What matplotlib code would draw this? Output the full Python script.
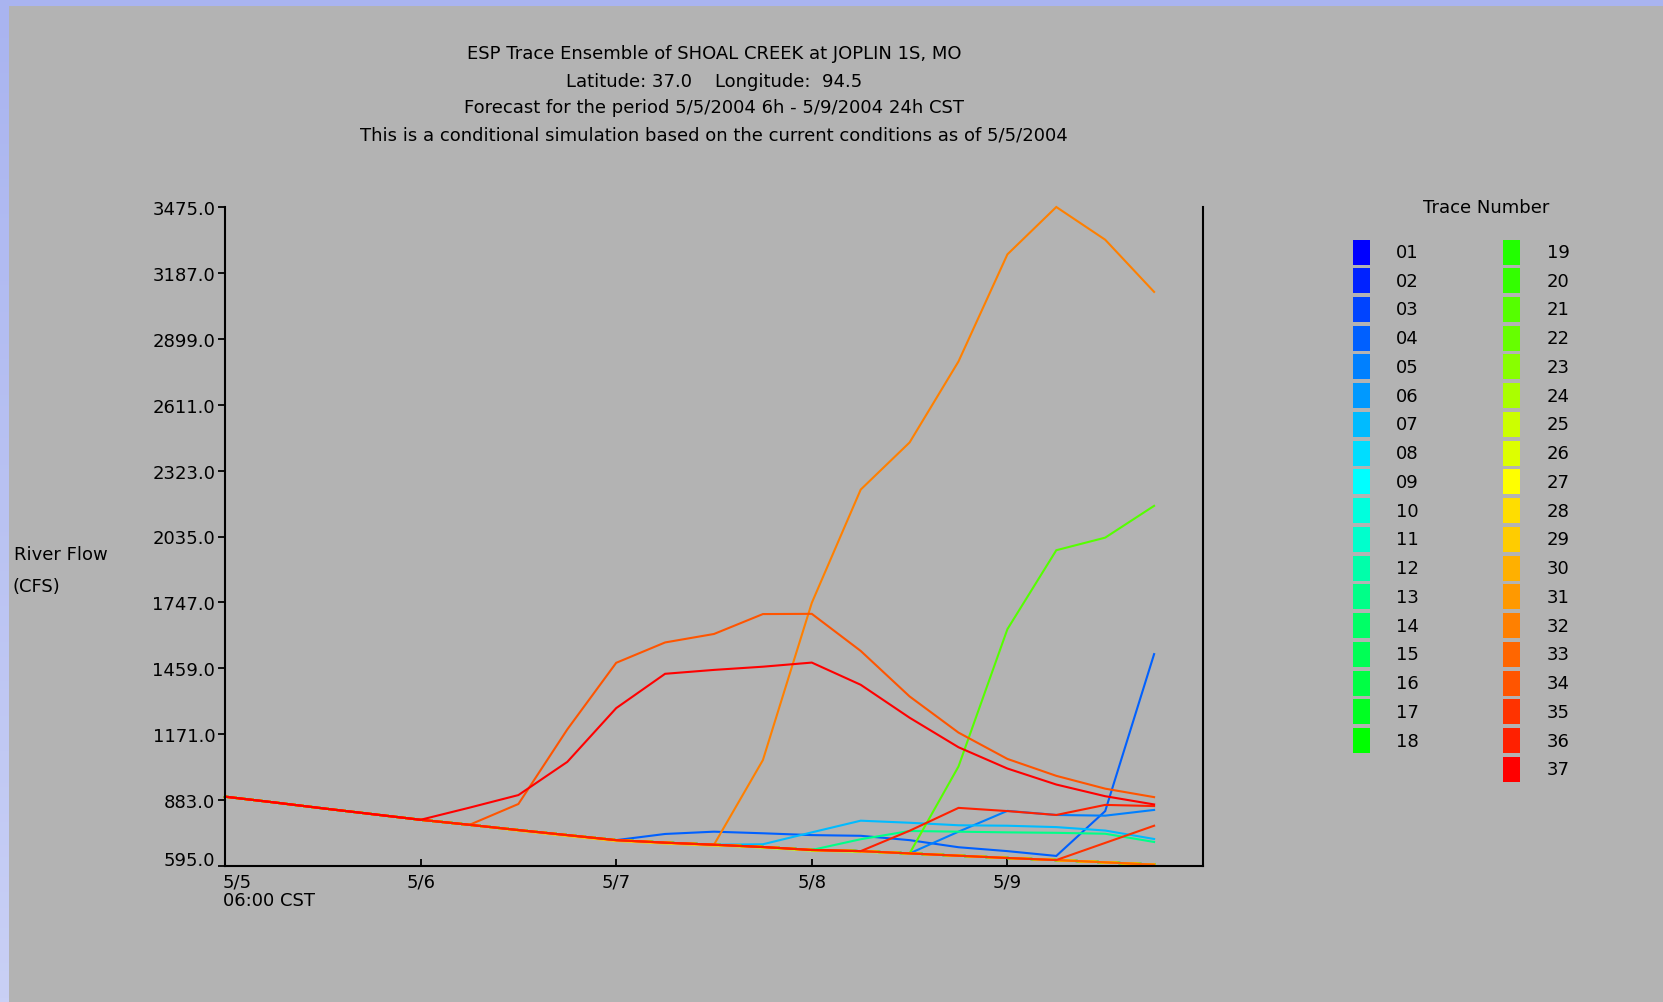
import matplotlib
matplotlib.use("Agg")
import matplotlib.pyplot as plt
from matplotlib.patches import Rectangle
from matplotlib.transforms import ScaledTranslation
import numpy as np

# ---------------- data ----------------
hours = [0, 6, 12, 18, 24, 30, 36, 42, 48, 54, 60, 66, 72, 78, 84, 90, 96, 102, 108, 114]
day_ticks = [0, 24, 48, 72, 96]
day_labels = ["5/5\n06:00 CST", "5/6", "5/7", "5/8", "5/9"]
y_ticks = [595, 883, 1171, 1459, 1747, 2035, 2323, 2611, 2899, 3187, 3475]

trace_ids = ["%02d" % k for k in range(1, 38)]
trace_colors = [
    "#0000ff", "#0022ff", "#0044ff", "#0060ff", "#0080ff", "#0099ff", "#00bbff", "#00ddff", "#00ffff",
    "#00ffdd", "#00ffcc", "#00ffaa", "#00ff88", "#00ff66", "#00ff55", "#00ff44", "#00ff22", "#00ff00",
    "#22ff00", "#33ff00", "#55ff00", "#66ff00", "#88ff00", "#aaff00", "#ccff00", "#ddff00", "#ffff00",
    "#ffdd00", "#ffcc00", "#ffb000", "#ff9900", "#ff8000", "#ff6600", "#ff5500", "#ff3300", "#ff2000",
    "#ff0000",
]

base_flow = [898, 873, 847, 822, 797, 775, 752, 730, 708, 697, 688, 678, 665, 660, 650, 640, 630, 621, 611, 601]
flow_04 = [898, 873, 847, 822, 797, 775, 752, 730, 708, 735, 745, 738, 730, 727, 708, 677, 660, 639, 835, 1521]
flow_05 = [898, 873, 847, 822, 797, 775, 752, 730, 708, 697, 688, 678, 665, 660, 650, 745, 836, 818, 815, 840]
flow_07 = [898, 873, 847, 822, 797, 775, 752, 730, 708, 697, 688, 690, 742, 793, 784, 773, 771, 765, 750, 713]
flow_13 = [898, 873, 847, 822, 797, 775, 752, 730, 708, 697, 688, 678, 665, 712, 748, 745, 742, 740, 736, 700]
flow_21 = [898, 873, 847, 822, 797, 775, 752, 730, 708, 697, 688, 678, 665, 660, 650, 1030, 1630, 1975, 2030, 2169]
flow_25 = [898, 873, 847, 822, 797, 775, 752, 730, 708, 697, 688, 675, 662, 657, 650, 640, 630, 621, 611, 601]
flow_29 = [898, 873, 847, 822, 797, 775, 749, 726, 704, 693, 684, 678, 665, 660, 650, 640, 630, 621, 611, 601]
flow_32 = [898, 873, 847, 822, 797, 775, 752, 730, 708, 697, 688, 1058, 1745, 2240, 2446, 2800, 3268, 3475, 3332, 3104]
flow_34 = [898, 873, 847, 822, 797, 775, 866, 1192, 1483, 1572, 1609, 1696, 1697, 1535, 1336, 1178, 1063, 989, 933, 896]
flow_35 = [898, 873, 847, 822, 797, 775, 752, 730, 708, 697, 688, 678, 665, 660, 650, 640, 630, 621, 696, 771]
flow_36 = [898, 873, 847, 822, 797, 775, 752, 730, 708, 697, 688, 678, 665, 660, 749, 849, 835, 818, 862, 857]
flow_37 = [898, 873, 847, 822, 797, 850, 905, 1050, 1285, 1435, 1452, 1466, 1484, 1387, 1243, 1114, 1021, 951, 900, 864]

special = {"04": flow_04, "05": flow_05, "07": flow_07, "13": flow_13, "21": flow_21,
           "25": flow_25, "29": flow_29, "32": flow_32, "34": flow_34, "35": flow_35,
           "36": flow_36, "37": flow_37}

# ---------------- figure ----------------
W, H = 1663, 1003
BG = "#b3b3b3"
FONT = "DejaVu Sans"
FS = 13

fig = plt.figure(figsize=(W / 100, H / 100), dpi=100, facecolor=BG)

# blue window edges
edge_ax = fig.add_axes([0, 0, 8.5 / W, 1])
grad = np.linspace(0, 1, 256).reshape(-1, 1)
from matplotlib.colors import LinearSegmentedColormap
cm = LinearSegmentedColormap.from_list("edge", ["#a9b4f0", "#c9d0f5"])
edge_ax.imshow(grad, aspect="auto", cmap=cm, extent=[0, 1, 0, 1])
edge_ax.set_axis_off()
fig.patches.append(Rectangle((0, 1 - 6.5 / H), 1, 6.5 / H, transform=fig.transFigure,
                             facecolor="#a9b4f0", edgecolor="none", zorder=5))

ax_left, ax_right, ax_top, ax_bot = 225, 1203, 208, 867
ax = fig.add_axes([ax_left / W, 1 - ax_bot / H, (ax_right - ax_left) / W, (ax_bot - ax_top) / H])
ax.set_facecolor(BG)

for tid, col in zip(trace_ids, trace_colors):
    vals = special.get(tid, base_flow)
    ax.plot(hours, vals, color=col, lw=1.5, solid_joinstyle="miter", clip_on=False)

ax.set_xlim(0, 120)
ax.set_ylim(595, 3475)
ax.spines["top"].set_visible(False)
for s in ("left", "bottom", "right"):
    ax.spines[s].set_linewidth(1.5)
    ax.spines[s].set_color("black")

ax.set_yticks(y_ticks)
ax.set_yticklabels(["%.1f" % v for v in y_ticks], fontsize=FS, family=FONT)
ax.tick_params(axis="y", direction="out", length=5, width=1.3, pad=2, right=False)
ax.set_xticks(day_ticks)
xl = ax.set_xticklabels(day_labels, fontsize=FS, family=FONT)
ax.tick_params(axis="x", direction="in", length=5, width=1.3, pad=5, top=False)
for t in xl:
    t.set_linespacing(1.0)
xl[0].set_ha("left")
xl[0].set_transform(xl[0].get_transform() + ScaledTranslation(-0.02, 0, fig.dpi_scale_trans))

yl = ax.get_yticklabels()
yl[0].set_transform(yl[0].get_transform() + ScaledTranslation(0, 0.085, fig.dpi_scale_trans))

# titles
title_lines = [
    "ESP Trace Ensemble of SHOAL CREEK at JOPLIN 1S, MO",
    "Latitude: 37.0    Longitude:  94.5",
    "Forecast for the period 5/5/2004 6h - 5/9/2004 24h CST",
    "This is a conditional simulation based on the current conditions as of 5/5/2004",
]
for line, yy in zip(title_lines, [54, 82, 108, 136]):
    fig.text(714 / W, 1 - yy / H, line, ha="center", va="center", fontsize=FS, family=FONT)

fig.text(14 / W, 1 - 555 / H, "River Flow", ha="left", va="center", fontsize=FS, family=FONT)
fig.text(13 / W, 1 - 587 / H, "(CFS)", ha="left", va="center", fontsize=FS, family=FONT)

# legend
fig.text(1486 / W, 1 - 208 / H, "Trace Number", ha="center", va="center", fontsize=FS, family=FONT)
for k, (tid, col) in enumerate(zip(trace_ids, trace_colors)):
    c = 0 if k < 18 else 1
    r = k if k < 18 else k - 18
    yc = 253 + r * 28.74
    sx = 1353 if c == 0 else 1503
    lx = 1396 if c == 0 else 1547
    fig.patches.append(Rectangle((sx / W, 1 - (yc + 12.5) / H), 16.5 / W, 25 / H,
                                 transform=fig.transFigure, facecolor=col, edgecolor="none"))
    fig.text(lx / W, 1 - yc / H, tid, ha="left", va="center", fontsize=FS, family=FONT)

fig.savefig("out.png", dpi=100, facecolor=BG)
